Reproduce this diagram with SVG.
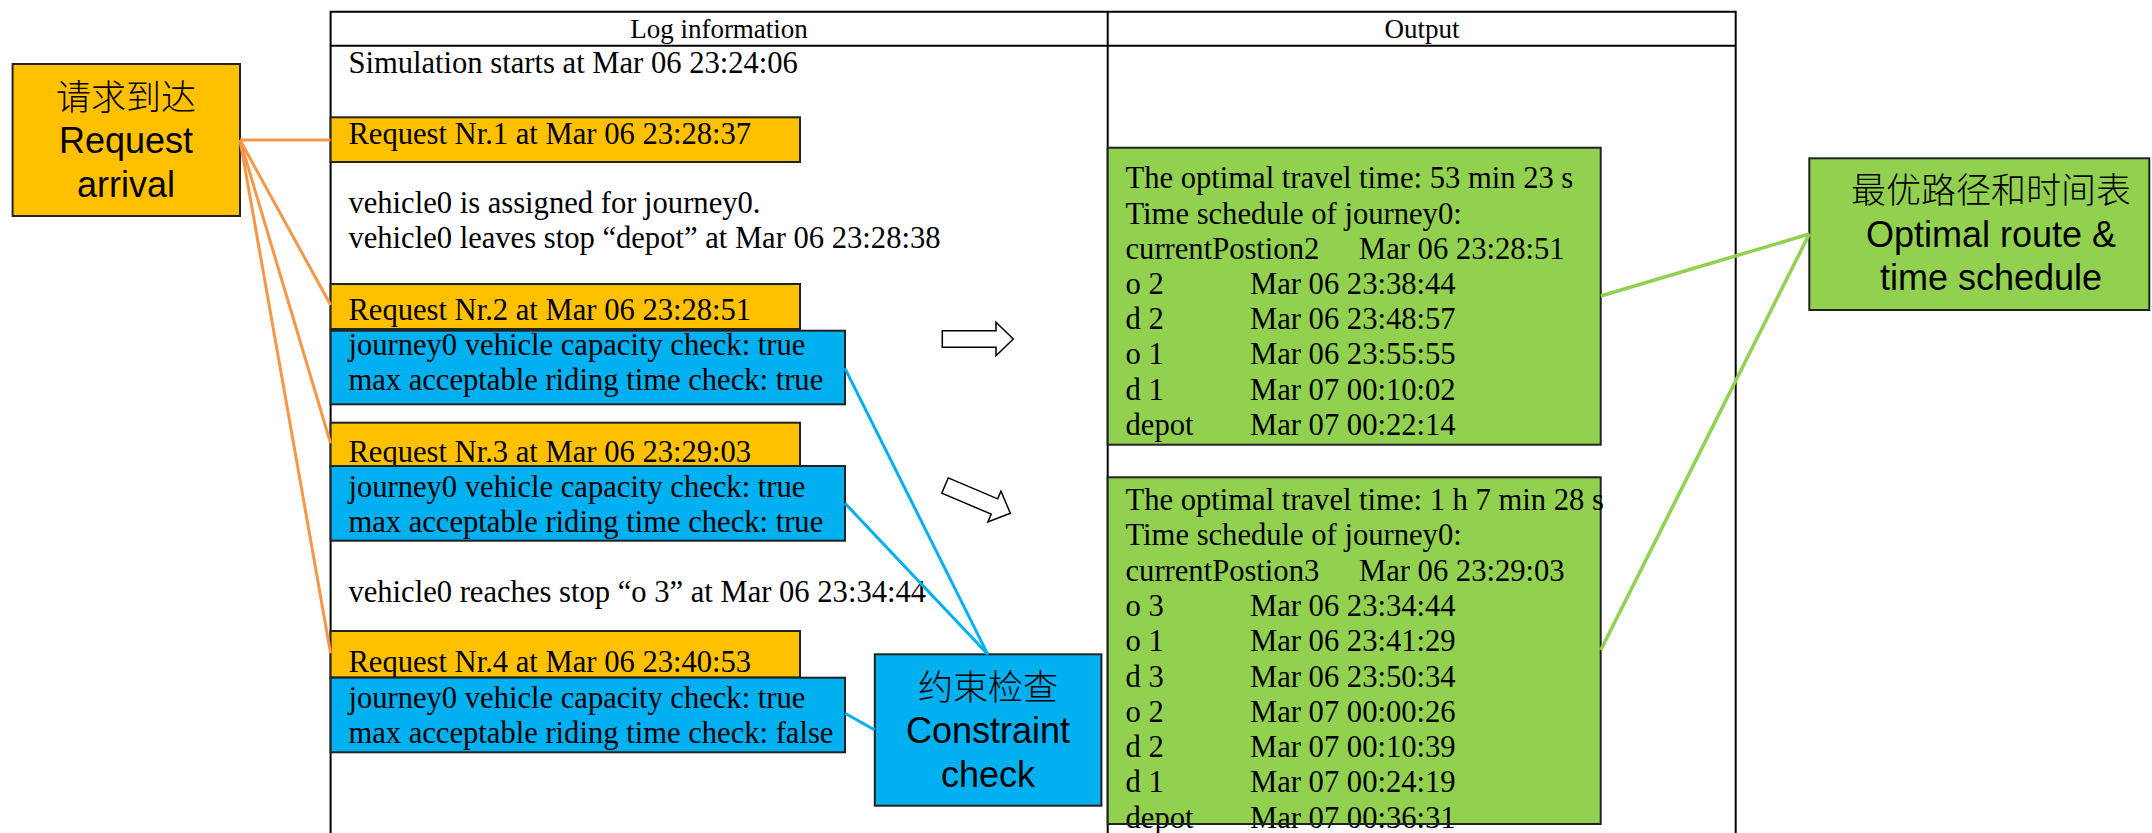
<svg xmlns="http://www.w3.org/2000/svg" width="2152" height="833" viewBox="0 0 2152 833">
  <style>
    .bg { fill: #ffffff; }
    .grid { fill: none; stroke: #000000; stroke-width: 2; }
    .log { font-family: "Liberation Serif", "Times New Roman", serif; font-size: 30.6px; fill: #000000; }
    .head { font-family: "Liberation Serif", "Times New Roman", serif; font-size: 27px; fill: #000000; text-anchor: middle; }
    .lbl { font-family: "Liberation Sans", Arial, "Noto Sans CJK SC", sans-serif; font-size: 36px; fill: #000000; text-anchor: middle; }
    .cjk { font-family: "Noto Sans CJK SC", sans-serif; font-size: 35px; font-weight: 300; fill: #000000; text-anchor: middle; }
    .req { fill: #FFC000; stroke: #222222; stroke-width: 2; }
    .chk { fill: #00B0F0; stroke: #222222; stroke-width: 2; }
    .out { fill: #92D050; stroke: #222222; stroke-width: 2; }
    .arrow { fill: #ffffff; stroke: #000000; stroke-width: 1.5; stroke-linejoin: miter; }
    .c-req { stroke: #F79646; stroke-width: 3; fill: none; }
    .c-chk { stroke: #00B0F0; stroke-width: 3; fill: none; }
    .c-out { stroke: #92D050; stroke-width: 3.5; fill: none; }
  </style>
  <defs>
    <!-- hollow block arrow, tail centre at origin, pointing along +x -->
    <path id="blockArrow" d="M0,-8.3 H53.7 V-16.7 L71,0 L53.7,16.7 V8.3 H0 Z"/>
  </defs>

  <rect class="bg" x="0" y="0" width="2152" height="833"/>

  <!-- two-column table frame -->
  <g id="table">
    <path class="grid" d="M330.6,840 V11.7 H1735.7 V840"/>
    <line class="grid" x1="330.6" y1="45.7" x2="1735.7" y2="45.7"/>
    <line class="grid" x1="1107.7" y1="11.7" x2="1107.7" y2="840"/>
    <text class="head" x="719" y="38">Log information</text>
    <text class="head" x="1422" y="38">Output</text>
  </g>

  <!-- plain log lines -->
  <g id="log-plain">
    <text class="log" x="348.4" y="73">Simulation starts at Mar 06 23:24:06</text>
    <text class="log" x="348.4" y="213">vehicle0 is assigned for journey0.</text>
    <text class="log" x="348.4" y="248">vehicle0 leaves stop “depot” at Mar 06 23:28:38</text>
    <text class="log" x="348.4" y="601.7">vehicle0 reaches stop “o 3” at Mar 06 23:34:44</text>
  </g>

  <!-- request entries -->
  <g id="request1">
    <rect class="req" x="330.6" y="117.3" width="469.4" height="44.7"/>
    <text class="log" x="348.4" y="144">Request Nr.1 at Mar 06 23:28:37</text>
  </g>
  <g id="request2">
    <rect class="req" x="330.6" y="284" width="469.4" height="45"/>
    <text class="log" x="348.4" y="320">Request Nr.2 at Mar 06 23:28:51</text>
  </g>
  <g id="request3">
    <rect class="req" x="330.6" y="422.7" width="469.4" height="45"/>
    <text class="log" x="348.4" y="461.7">Request Nr.3 at Mar 06 23:29:03</text>
  </g>
  <g id="request4">
    <rect class="req" x="330.6" y="631" width="469.4" height="46.5"/>
    <text class="log" x="348.4" y="671.7">Request Nr.4 at Mar 06 23:40:53</text>
  </g>

  <!-- constraint check entries -->
  <g id="check2">
    <rect class="chk" x="330.6" y="330.7" width="514.4" height="73.6"/>
    <text class="log" x="348.4" y="355">journey0 vehicle capacity check: true</text>
    <text class="log" x="348.4" y="389.5">max acceptable riding time check: true</text>
  </g>
  <g id="check3">
    <rect class="chk" x="330.6" y="466" width="514.4" height="74.7"/>
    <text class="log" x="348.4" y="496.7">journey0 vehicle capacity check: true</text>
    <text class="log" x="348.4" y="531.7">max acceptable riding time check: true</text>
  </g>
  <g id="check4">
    <rect class="chk" x="330.6" y="677.7" width="514.4" height="74.6"/>
    <text class="log" x="348.4" y="708.3">journey0 vehicle capacity check: true</text>
    <text class="log" x="348.4" y="743.3">max acceptable riding time check: false</text>
  </g>

  <!-- schedule outputs -->
  <g id="output1">
    <rect class="out" x="1107.7" y="147.7" width="493" height="297"/>
    <text class="log" x="1125.5" y="188.3">The optimal travel time: 53 min 23 s</text>
    <text class="log" x="1125.5" y="223.5">Time schedule of journey0:</text>
    <text class="log" x="1125.5" y="258.7">currentPostion2</text>
    <text class="log" x="1359" y="258.7">Mar 06 23:28:51</text>
    <text class="log" x="1125.5" y="293.9">o 2</text>
    <text class="log" x="1250" y="293.9">Mar 06 23:38:44</text>
    <text class="log" x="1125.5" y="329.1">d 2</text>
    <text class="log" x="1250" y="329.1">Mar 06 23:48:57</text>
    <text class="log" x="1125.5" y="364.3">o 1</text>
    <text class="log" x="1250" y="364.3">Mar 06 23:55:55</text>
    <text class="log" x="1125.5" y="399.5">d 1</text>
    <text class="log" x="1250" y="399.5">Mar 07 00:10:02</text>
    <text class="log" x="1125.5" y="434.7">depot</text>
    <text class="log" x="1250" y="434.7">Mar 07 00:22:14</text>
  </g>
  <g id="output2">
    <rect class="out" x="1107.7" y="477.3" width="493" height="346.7"/>
    <text class="log" x="1125.5" y="510">The optimal travel time: 1 h 7 min 28 s</text>
    <text class="log" x="1125.5" y="545.3">Time schedule of journey0:</text>
    <text class="log" x="1125.5" y="580.6">currentPostion3</text>
    <text class="log" x="1359" y="580.6">Mar 06 23:29:03</text>
    <text class="log" x="1125.5" y="615.9">o 3</text>
    <text class="log" x="1250" y="615.9">Mar 06 23:34:44</text>
    <text class="log" x="1125.5" y="651.2">o 1</text>
    <text class="log" x="1250" y="651.2">Mar 06 23:41:29</text>
    <text class="log" x="1125.5" y="686.5">d 3</text>
    <text class="log" x="1250" y="686.5">Mar 06 23:50:34</text>
    <text class="log" x="1125.5" y="721.8">o 2</text>
    <text class="log" x="1250" y="721.8">Mar 07 00:00:26</text>
    <text class="log" x="1125.5" y="757.1">d 2</text>
    <text class="log" x="1250" y="757.1">Mar 07 00:10:39</text>
    <text class="log" x="1125.5" y="792.4">d 1</text>
    <text class="log" x="1250" y="792.4">Mar 07 00:24:19</text>
    <text class="log" x="1125.5" y="827.7">depot</text>
    <text class="log" x="1250" y="827.7">Mar 07 00:36:31</text>
    <line x1="1107.7" y1="824" x2="1600.7" y2="824" stroke="#222222" stroke-width="2"/>
  </g>

  <!-- hollow arrows pointing towards the outputs -->
  <g id="arrow1">
    <use href="#blockArrow" class="arrow" transform="translate(942.3,339)"/>
  </g>
  <g id="arrow2">
    <use href="#blockArrow" class="arrow" transform="translate(945,485.5) rotate(23)"/>
  </g>

  <!-- callout labels -->
  <g id="label-request">
    <rect class="req" x="12.6" y="64" width="227.4" height="152"/>
    <text class="cjk" x="126" y="110">请求到达</text>
    <text class="lbl" x="126" y="153">Request</text>
    <text class="lbl" x="126" y="197">arrival</text>
  </g>
  <g id="label-constraint">
    <rect class="chk" x="874.8" y="654.3" width="226.6" height="151.4"/>
    <text class="cjk" x="988" y="700">约束检查</text>
    <text class="lbl" x="988" y="743.3">Constraint</text>
    <text class="lbl" x="988" y="786.7">check</text>
  </g>
  <g id="label-output">
    <rect class="out" x="1809.3" y="158.3" width="340" height="151.7"/>
    <text class="cjk" x="1991" y="203.3">最优路径和时间表</text>
    <text class="lbl" x="1991" y="246.7">Optimal route &amp;</text>
    <text class="lbl" x="1991" y="290">time schedule</text>
  </g>

  <!-- callout connectors -->
  <g id="connectors">
    <line class="c-req" x1="240" y1="140" x2="330.6" y2="140"/>
    <line class="c-req" x1="240" y1="140" x2="330.6" y2="305"/>
    <line class="c-req" x1="240" y1="140" x2="330.6" y2="443.3"/>
    <line class="c-req" x1="240" y1="140" x2="330.6" y2="653.3"/>
    <line class="c-chk" x1="845" y1="368.3" x2="987.8" y2="654.3"/>
    <line class="c-chk" x1="845" y1="503.3" x2="987.8" y2="654.3"/>
    <line class="c-chk" x1="845" y1="713.3" x2="874.8" y2="730"/>
    <line class="c-out" x1="1600.8" y1="296" x2="1809.3" y2="234"/>
    <line class="c-out" x1="1600.8" y1="650" x2="1809.3" y2="234"/>
  </g>
</svg>
